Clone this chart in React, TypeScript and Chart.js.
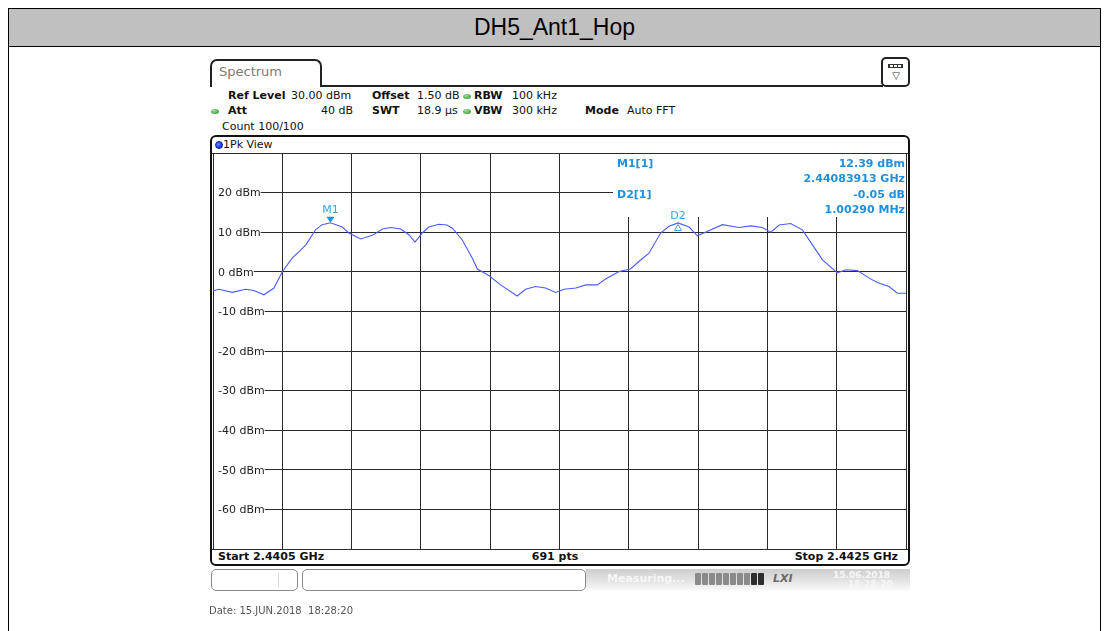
import React, { useEffect, useRef } from 'react';
import { Chart, registerables } from 'chart.js';

Chart.register(...registerables);

const FONT = '"DejaVu Sans", Verdana, sans-serif';

// ---- trace data (frequency in MHz, level in dBm) ----
const freqMHz = [
  2440.5, 2440.517, 2440.556, 2440.594, 2440.618, 2440.647, 2440.676, 2440.7, 2440.729, 2440.75,
  2440.768, 2440.796, 2440.815, 2440.839, 2440.873, 2440.892, 2440.926, 2440.96, 2440.989, 2441.013,
  2441.042, 2441.066, 2441.083, 2441.104, 2441.123, 2441.152, 2441.175, 2441.191, 2441.219, 2441.248,
  2441.263, 2441.297, 2441.33, 2441.378, 2441.402, 2441.431, 2441.46, 2441.489, 2441.513, 2441.547,
  2441.576, 2441.609, 2441.633, 2441.672, 2441.705, 2441.729, 2441.758, 2441.792, 2441.816, 2441.842,
  2441.874, 2441.898, 2441.926, 2441.97, 2442.018, 2442.052, 2442.085, 2442.11, 2442.134, 2442.167,
  2442.201, 2442.23, 2442.259, 2442.302, 2442.326, 2442.36, 2442.394, 2442.417, 2442.451, 2442.475,
  2442.5,
];
const levelDbm = [
  -4.8, -4.4, -5.2, -4.4, -4.7, -5.8, -4.1, 0.0, 3.5, 5.2,
  6.8, 10.6, 11.9, 12.39, 11.3, 9.8, 8.3, 9.2, 10.8, 11.2,
  10.8, 9.3, 7.5, 9.8, 11.3, 12.0, 11.8, 11.0, 8.1, 3.5,
  0.7, -1.0, -3.3, -6.1, -4.4, -3.7, -4.1, -5.2, -4.4, -4.1,
  -3.3, -3.3, -1.8, 0.1, 0.7, 2.6, 4.7, 9.8, 11.5, 12.34,
  11.3, 9.1, 10.2, 11.9, 11.2, 11.6, 11.2, 10.0, 11.8, 12.2,
  10.6, 6.8, 3.0, -0.3, 0.5, 0.3, -1.6, -2.7, -3.7, -5.4,
  -5.4,
];

// ---- axes ----
const startMHz = 2440.5;
const stopMHz = 2442.5;
const xDivMHz = 0.2;
const refLevelDbm = 30;
const bottomDbm = -70;
const yDivDb = 10;
const yUnit = 'dBm';

// ---- markers ----
const markerNames = ['M1', 'D2'];
const markerFreqMHz = [2440.83913, 2441.84203];
const markerLevelDbm = [12.39, 12.34];
const markerIsDelta = [false, true];
const markerInfoNames = ['M1[1]', 'D2[1]'];
const markerInfoLine1 = ['12.39 dBm', '-0.05 dB'];
const markerInfoLine2 = ['2.44083913 GHz', '1.00290 MHz'];

const TRACE = '#4a5cff';
const MK = '#1e90dc';
const MK_LIGHT = '#3aa3e3';

const CANVAS_LEFT = 200;
const CANVAS_TOP = 130;
const CANVAS_W = 720;
const CANVAS_H = 440;

const overlayPlugin = {
  id: 'rsOverlay',
  beforeDatasetsDraw(chart: any) {
    const { ctx, chartArea } = chart;
    ctx.save();
    const boxLeft = chartArea.right - 293;
    ctx.fillStyle = '#ffffff';
    ctx.fillRect(boxLeft, chartArea.top + 1, chartArea.right - boxLeft, 63);
    ctx.font = `bold 11px ${FONT}`;
    ctx.fillStyle = MK;
    ctx.textBaseline = 'middle';
    markerInfoNames.forEach((name, i) => {
      const y0 = chartArea.top + 11 + i * 31;
      ctx.textAlign = 'left';
      ctx.fillText(name, boxLeft + 4, y0);
      ctx.textAlign = 'right';
      ctx.fillText(markerInfoLine1[i], chartArea.right - 1, y0);
      ctx.fillText(markerInfoLine2[i], chartArea.right - 1, y0 + 15.5);
    });
    ctx.restore();
  },
  afterDatasetsDraw(chart: any) {
    const { ctx } = chart;
    const xs = chart.scales.x;
    const ys = chart.scales.y;
    ctx.save();
    ctx.font = `11px ${FONT}`;
    ctx.textAlign = 'center';
    ctx.textBaseline = 'middle';
    markerNames.forEach((name, i) => {
      const px = xs.getPixelForValue(markerFreqMHz[i]);
      const py = ys.getPixelForValue(markerLevelDbm[i]);
      ctx.fillStyle = MK_LIGHT;
      ctx.strokeStyle = MK_LIGHT;
      if (!markerIsDelta[i]) {
        ctx.fillStyle = MK;
        ctx.beginPath();
        ctx.moveTo(px - 4, py - 6);
        ctx.lineTo(px + 4, py - 6);
        ctx.lineTo(px, py);
        ctx.closePath();
        ctx.fill();
        ctx.fillStyle = MK_LIGHT;
        ctx.fillText(name, px, py - 12.5);
      } else {
        ctx.lineWidth = 1;
        ctx.beginPath();
        ctx.moveTo(px, py + 1.5);
        ctx.lineTo(px - 3.5, py + 7.5);
        ctx.lineTo(px + 3.5, py + 7.5);
        ctx.closePath();
        ctx.stroke();
        ctx.fillText(name, px, py - 7);
      }
    });
    ctx.restore();
  },
};

function SpectrumChart() {
  const ref = useRef<HTMLCanvasElement | null>(null);
  useEffect(() => {
    if (!ref.current) return;
    const chart = new Chart(ref.current, {
      type: 'line',
      data: {
        datasets: [
          {
            label: '1Pk View',
            data: freqMHz.map((f, i) => ({ x: f, y: levelDbm[i] })),
            borderColor: TRACE,
            borderWidth: 1.1,
            pointRadius: 0,
            tension: 0,
            fill: false,
          },
        ],
      },
      options: {
        responsive: false,
        animation: false,
        devicePixelRatio: 1,
        layout: { padding: { left: 13, top: 23, right: 14, bottom: 21 } },
        plugins: { legend: { display: false }, tooltip: { enabled: false }, title: { display: false } },
        scales: {
          x: {
            type: 'linear',
            min: startMHz,
            max: stopMHz,
            afterFit: (s: any) => { s.height = 0; },
            ticks: { display: false, stepSize: xDivMHz },
            grid: { color: '#2a2a2a', lineWidth: 1, drawTicks: false },
            border: { display: false },
          },
          y: {
            type: 'linear',
            min: bottomDbm,
            max: refLevelDbm,
            afterFit: (s: any) => { s.width = 0; },
            ticks: {
              stepSize: yDivDb,
              mirror: true,
              padding: 5,
              labelOffset: 1,
              color: '#222',
              font: { family: FONT, size: 11 },
              showLabelBackdrop: true,
              backdropColor: (c: any) =>
                c.tick && (c.tick.value === refLevelDbm || c.tick.value === bottomDbm) ? 'rgba(0,0,0,0)' : '#ffffff',
              backdropPadding: { left: 4, right: 0, top: 1, bottom: 1 },
              callback: (v: any) => (v === refLevelDbm || v === bottomDbm ? '' : `${v} ${yUnit}`),
            },
            grid: { color: '#2a2a2a', lineWidth: 1, drawTicks: false },
            border: { display: false },
          },
        },
      },
      plugins: [overlayPlugin],
    } as any);
    return () => chart.destroy();
  }, []);
  return (
    <canvas
      ref={ref}
      width={CANVAS_W}
      height={CANVAS_H}
      style={{ position: 'absolute', left: CANVAS_LEFT, top: CANVAS_TOP, width: CANVAS_W, height: CANVAS_H }}
    />
  );
}

function T(props: { x: number; y: number; children: any; bold?: boolean; size?: number; color?: string; align?: string }) {
  const { x, y, children, bold, size = 11, color = '#111', align = 'left' } = props;
  const style: any = {
    position: 'absolute',
    top: y - 8,
    height: 16,
    lineHeight: '16px',
    fontSize: size,
    fontFamily: FONT,
    fontWeight: bold ? 'bold' : 'normal',
    color,
    whiteSpace: 'nowrap',
  };
  if (align === 'right') style.right = 1108 - x;
  else if (align === 'center') {
    style.left = x - 100;
    style.width = 200;
    style.textAlign = 'center';
  } else style.left = x;
  return <div style={style}>{children}</div>;
}

function Dot({ x, y }: { x: number; y: number }) {
  return (
    <div
      style={{
        position: 'absolute',
        left: x - 4,
        top: y - 2.5,
        width: 8,
        height: 5,
        borderRadius: '50%',
        background: 'radial-gradient(ellipse at 40% 35%, #a8dca0 0%, #4caf50 60%, #2e7d32 100%)',
      }}
    />
  );
}

export default function App() {
  const abs = (s: any) => ({ position: 'absolute', ...s });
  const blocks = [0, 1, 2, 3, 4, 5, 6, 7, 8, 9];
  return (
    <div style={abs({ left: 0, top: 0, width: 1108, height: 631, background: '#fff', overflow: 'hidden' })}>
      {/* report table */}
      <div
        style={abs({
          left: 8,
          top: 8,
          width: 1093,
          height: 39,
          boxSizing: 'border-box',
          border: '1px solid #000',
          background: '#c0c0c0',
          textAlign: 'center',
          lineHeight: '37px',
          fontFamily: '"Liberation Sans", Arial, sans-serif',
          fontSize: 23,
          color: '#000',
        })}
      >
        DH5_Ant1_Hop
      </div>
      <div style={abs({ left: 8, top: 46, width: 1, height: 600, background: '#000' })} />
      <div style={abs({ left: 1100, top: 46, width: 1, height: 600, background: '#000' })} />

      {/* Spectrum tab */}
      <div
        style={abs({
          left: 210,
          top: 59,
          width: 112,
          height: 28,
          boxSizing: 'border-box',
          border: '2px solid #222',
          borderBottom: 'none',
          borderRadius: '7px 7px 0 0',
        })}
      />
      <T x={219} y={72} size={13} color="#7a7a7a">Spectrum</T>
      <div style={abs({ left: 320, top: 85, width: 563, height: 2, background: '#222' })} />
      <div
        style={abs({
          left: 881,
          top: 57,
          width: 29,
          height: 30,
          boxSizing: 'border-box',
          border: '2px solid #222',
          borderRadius: 5,
          background: '#fff',
        })}
      />
      <div style={abs({ left: 888, top: 64, width: 15, height: 4, boxSizing: 'border-box', border: '1px solid #333', background: 'repeating-linear-gradient(to right, #333 0 1px, #fff 1px 4px)' })} />
      <T x={896} y={76} size={10} color="#333" align="center">▽</T>

      {/* settings rows */}
      <T x={228} y={95.5} bold>Ref Level</T>
      <T x={291} y={95.5}>30.00 dBm</T>
      <T x={372} y={95.5} bold>Offset</T>
      <T x={417} y={95.5}>1.50 dB</T>
      <Dot x={467} y={96} />
      <T x={474} y={95.5} bold>RBW</T>
      <T x={512} y={95.5}>100 kHz</T>

      <Dot x={215} y={111} />
      <T x={228} y={111} bold>Att</T>
      <T x={353} y={111} align="right">40 dB</T>
      <T x={372} y={111} bold>SWT</T>
      <T x={417} y={111}>18.9 µs</T>
      <Dot x={467} y={111} />
      <T x={474} y={111} bold>VBW</T>
      <T x={512} y={111}>300 kHz</T>
      <T x={585} y={111} bold>Mode</T>
      <T x={627} y={111}>Auto FFT</T>

      <T x={222} y={127}>Count 100/100</T>

      {/* trace window frame */}
      <div
        style={abs({
          left: 210,
          top: 135,
          width: 700,
          height: 431,
          boxSizing: 'border-box',
          border: '2px solid #111',
          borderRadius: 6,
        })}
      />
      <div
        style={abs({
          left: 214.5,
          top: 141,
          width: 8,
          height: 8,
          boxSizing: 'border-box',
          borderRadius: '50%',
          border: '1px solid #0a1a90',
          background: 'radial-gradient(circle at 35% 35%, #6f86ff 0%, #1f3cff 60%, #1028c0 100%)',
        })}
      />
      <T x={223} y={145}>1Pk View</T>
      <div style={abs({ left: 212, top: 153, width: 696, height: 1, background: '#222' })} />
      <div style={abs({ left: 212, top: 549, width: 696, height: 1, background: '#222' })} />
      <T x={218} y={557} bold>Start 2.4405 GHz</T>
      <T x={555} y={557} bold align="center">691 pts</T>
      <T x={898} y={557} bold align="right">Stop 2.4425 GHz</T>

      <SpectrumChart />

      {/* status bar */}
      <div style={abs({ left: 586, top: 569, width: 324, height: 22, background: 'linear-gradient(to bottom, #cdcdcd 0%, #e6e6e6 60%, #fbfbfb 100%)', overflow: 'hidden' })}>
        <div style={abs({ left: 21, top: 3, fontFamily: FONT, fontSize: 11, fontWeight: 'bold', color: '#f6f6f6' })}>Measuring...</div>
        {blocks.map((b) => (
          <div
            key={b}
            style={abs({
              left: 109 + b * 7,
              top: 4,
              width: 6,
              height: 12,
              borderRadius: 1,
              background: b >= 8 ? '#2e2e2e' : '#8a8a8a',
            })}
          />
        ))}
        <div style={abs({ left: 187, top: 3, fontFamily: FONT, fontSize: 11, fontWeight: 'bold', fontStyle: 'italic', color: '#6a6a6a' })}>LXI</div>
        <div style={abs({ left: 247, top: 1, fontFamily: FONT, fontSize: 9, fontWeight: 'bold', color: '#f6f6f6' })}>15.06.2018</div>
        <div style={abs({ left: 262, top: 10, fontFamily: FONT, fontSize: 9, fontWeight: 'bold', color: '#f6f6f6' })}>18:28:20</div>
      </div>
      <div
        style={abs({
          left: 211,
          top: 569,
          width: 87,
          height: 22,
          boxSizing: 'border-box',
          border: '1px solid #8a8a8a',
          borderRadius: 5,
          background: '#fff',
        })}
      />
      <div style={abs({ left: 278, top: 572, width: 1, height: 16, background: '#ddd' })} />
      <div
        style={abs({
          left: 302,
          top: 569,
          width: 284,
          height: 22,
          boxSizing: 'border-box',
          border: '1px solid #8a8a8a',
          borderRadius: 5,
          background: '#fff',
        })}
      />

      <div style={abs({ left: 209, top: 605, fontFamily: FONT, fontSize: 10, color: '#555', whiteSpace: 'pre' })}>
        Date: 15.JUN.2018  18:28:20
      </div>
    </div>
  );
}
